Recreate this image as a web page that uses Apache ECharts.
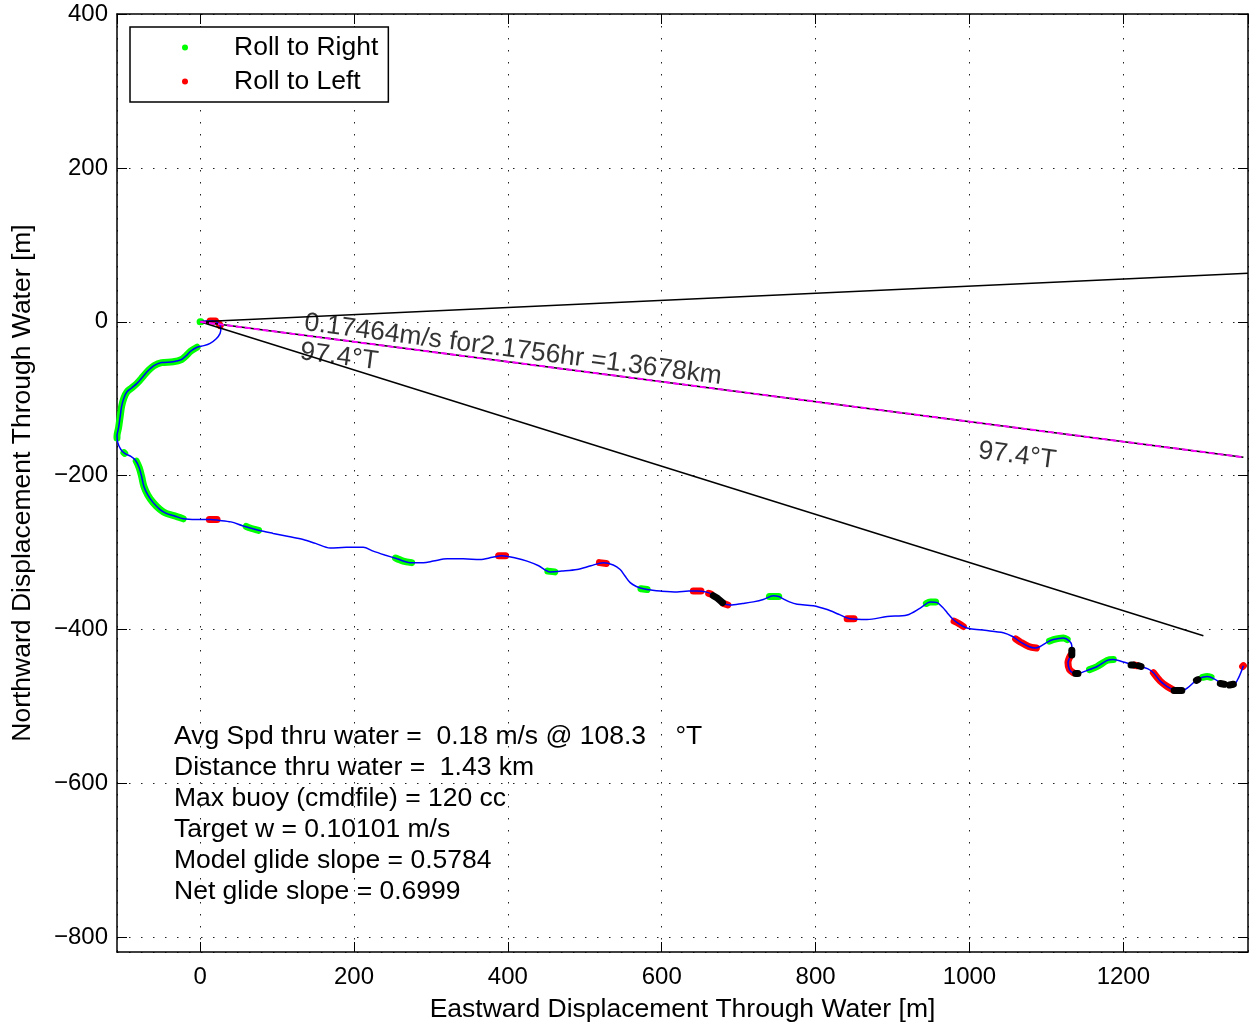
<!DOCTYPE html>
<html><head><meta charset="utf-8">
<script src="https://cdn.jsdelivr.net/npm/echarts@6/dist/echarts.min.js"></script>
<style>html,body{margin:0;padding:0;background:#fff;}#c{width:1249px;height:1026px;}</style>
</head><body><div id="c"></div>
<script>
// Glider track through water (Eastward, Northward) in metres
const track = [
[0,0],[8,1],[17,1],[24,-2],[27,-8],[26,-15],[21,-22],[13,-28],[5,-31],[-4,-33],[-12,-38],[-18,-44],[-24,-49],[-35,-52],[-50,-53],[-60,-57],[-67,-63],[-74,-71],[-82,-80],[-89,-86],[-95,-91],[-99,-99],[-102,-110],[-104,-124],[-106,-138],[-108,-148],[-107,-157],[-103,-166],[-98,-171],[-90,-175],[-84,-180],[-79,-190],[-76,-201],[-73,-214],[-68,-225],[-61,-235],[-52,-244],[-44,-249],[-34,-252],[-22,-256],[-5,-257],[13,-257],[24,-258],[40,-260],[55,-265],[65,-268],[76,-271],[95,-275],[115,-279],[134,-283],[150,-288],[169,-294],[190,-293],[212,-293],[225,-298],[240,-303],[256,-308],[273,-313],[290,-313],[303,-311],[321,-308],[342,-308],[364,-309],[380,-306],[392,-304],[410,-307],[425,-311],[440,-317],[455,-325],[470,-324],[490,-322],[508,-317],[524,-313],[537,-316],[546,-322],[552,-330],[559,-339],[567,-344],[576,-347],[588,-349],[598,-350],[620,-351],[635,-350],[646,-350],[657,-351],[665,-354],[672,-359],[680,-366],[689,-368],[705,-366],[719,-364],[732,-361],[745,-356],[752,-357],[758,-360],[766,-364],[776,-367],[797,-369],[815,-374],[830,-380],[845,-386],[867,-387],[893,-383],[919,-381],[936,-372],[949,-364],[958,-365],[965,-371],[971,-378],[978,-386],[984,-391],[992,-396],[1001,-399],[1020,-401],[1044,-404],[1056,-409],[1066,-416],[1077,-422],[1085,-424],[1092,-422],[1100,-417],[1109,-413],[1122,-411],[1130,-415],[1133,-421],[1133,-430],[1130,-437],[1128,-443],[1130,-452],[1134,-456],[1140,-457],[1153,-453],[1166,-448],[1179,-440],[1187,-439],[1200,-442],[1213,-446],[1222,-448],[1232,-451],[1239,-456],[1248,-467],[1257,-474],[1265,-478],[1274,-480],[1283,-476],[1296,-465],[1309,-461],[1318,-464],[1330,-471],[1343,-472],[1350,-462],[1356,-447]
];
// Track stretches flagged as roll to right (green)
const rollRight = [
[[0,0],[1,0]],
[[-4,-33],[-12,-38],[-18,-44],[-24,-49],[-35,-52],[-50,-53],[-60,-57],[-67,-63],[-74,-71],[-82,-80],[-89,-86],[-95,-91],[-99,-99],[-102,-110],[-104,-124],[-106,-138],[-108,-148],[-108,-151]],
[[-99,-170],[-98,-171]],
[[-83,-181],[-79,-190],[-76,-201],[-73,-214],[-68,-225],[-61,-235],[-52,-244],[-44,-249],[-34,-252],[-22,-256]],
[[60,-266],[65,-268],[76,-271]],
[[254,-307],[264,-311],[275,-313]],
[[452,-324],[461,-325]],
[[573,-347],[581,-348]],
[[740,-357],[752,-357]],
[[944,-366],[949,-364],[956,-364]],
[[1104,-415],[1109,-413],[1122,-411],[1127,-413]],
[[1156,-452],[1166,-448],[1179,-440],[1187,-439]],
[[1303,-462],[1309,-461],[1314,-462]]
];
// Track stretches flagged as roll to left (red)
const rollLeft = [
[[13,1],[20,1]],
[[25,-3],[26,-5]],
[[12,-257],[22,-257]],
[[388,-304],[397,-304]],
[[519,-313],[528,-314]],
[[641,-350],[651,-350]],
[[661,-353],[664,-354]],
[[680,-366],[686,-368]],
[[841,-386],[850,-386]],
[[980,-389],[986,-392],[992,-396]],
[[1060,-412],[1066,-416],[1077,-422],[1087,-424]],
[[1131,-434],[1128,-443],[1130,-452],[1135,-456]],
[[1214,-446],[1218,-447]],
[[1239,-456],[1248,-467],[1257,-474],[1266,-479]],
[[1355,-448],[1356,-447]]
];
// Other flagged stretches (black)
const rollOther = [
[[667,-356],[672,-359],[679,-365]],
[[1133,-427],[1133,-433]],
[[1138,-457],[1141,-457]],
[[1210,-446],[1213,-446]],
[[1220,-447],[1223,-448]],
[[1266,-479],[1276,-479]],
[[1295,-466],[1297,-465]],
[[1326,-470],[1331,-471]],
[[1338,-472],[1343,-471]]
];
const currentLine = [[0,0],[1362,63]];
const headingLine = [[0,0],[1356,-176]];
const avgLine = [[0,0],[1304,-408]];
const headingText = '0.17464m/s for2.1756hr =1.3678km';
const headingDeg = '97.4°T';
const statsLines = [
'Avg Spd thru water =  0.18 m/s @ 108.3    °T',
'Distance thru water =  1.43 km',
'Max buoy (cmdfile) = 120 cc',
'Target w = 0.10101 m/s',
'Model glide slope = 0.5784',
'Net glide slope = 0.6999'
];
const xName = 'Eastward Displacement Through Water [m]';
const yName = 'Northward Displacement Through Water [m]';

const FONT = "'Liberation Sans', Arial, Helvetica, sans-serif";
const TXT = 26.5;
const GREEN = '#00ff00', RED = '#ff0000', BLUE = '#0000ff';
const fmt = v => (v < 0 ? '\u2212' + Math.abs(v) : String(v));
const gridLine = {show:true, lineStyle:{color:'#222', width:1, type:[1.5,10.5]}};

function segs(name, color, list, z){
  return list.map(s => ({type:'line', name, data:s, smooth:0.3, symbol:'none', showSymbol:false,
    lineStyle:{color, width:7, cap:'round', join:'round'}, itemStyle:{color}, z, silent:true}));
}
function straight(data, color, width, type, z){
  return {type:'line', data, symbol:'none', showSymbol:false, silent:true, z,
    lineStyle:{color, width, type: type || 'solid'}, itemStyle:{color}};
}
function label(pt, text){
  return {type:'scatter', data:[pt], symbolSize:0, silent:true, z:6,
    label:{show:true, position:'inside', formatter:text, rotate:-7.4, fontSize:TXT, fontFamily:FONT, color:'#000'}};
}

const baseX = {type:'value', min:-108, max:1362, splitNumber:7};
const baseY = {type:'value', min:-819, max:400, splitNumber:6};
const axLine = {show:true, onZero:false, lineStyle:{color:'#000', width:1.5}};
const axTick = {show:true, inside:true, length:10, lineStyle:{color:'#000', width:1}};

const option = {
  animation:false,
  backgroundColor:'#fff',
  grid:{left:117, right:1, top:14, bottom:74, show:false, containLabel:false, outerBoundsMode:'none'},
  xAxis:[
    Object.assign({}, baseX, {position:'bottom', axisLine:axLine, axisTick:axTick,
      axisLabel:{showMinLabel:false, showMaxLabel:false, fontSize:24, fontFamily:FONT, color:'#000', margin:13, formatter:fmt},
      splitLine:gridLine, name:xName, nameLocation:'middle', nameGap:44,
      nameTextStyle:{fontSize:TXT, fontFamily:FONT, color:'#000'}}),
    Object.assign({}, baseX, {position:'top', axisLine:axLine, axisTick:axTick, axisLabel:{show:false}, splitLine:{show:false}})
  ],
  yAxis:[
    Object.assign({}, baseY, {position:'left', axisLine:axLine, axisTick:axTick,
      axisLabel:{showMinLabel:false, fontSize:24, fontFamily:FONT, color:'#000', margin:9, formatter:fmt},
      splitLine:gridLine, name:yName, nameLocation:'middle', nameGap:81,
      nameTextStyle:{fontSize:TXT, fontFamily:FONT, color:'#000'}}),
    Object.assign({}, baseY, {position:'right', axisLine:axLine, axisTick:axTick, axisLabel:{show:false}, splitLine:{show:false}})
  ],
  legend:{
    left:130, top:27, orient:'vertical', itemWidth:6, itemHeight:6, itemGap:7,
    padding:[7,10,7,52], borderColor:'#000', borderWidth:1.5, backgroundColor:'#fff', borderRadius:0,
    textStyle:{fontSize:TXT, fontFamily:FONT, color:'#000', lineHeight:26, padding:[0,0,0,41]},
    selectedMode:false,
    data:[{name:'Roll to Right', icon:'circle', itemStyle:{color:GREEN}},
          {name:'Roll to Left', icon:'circle', itemStyle:{color:RED}}]
  },
  graphic:[{type:'text', left:174, top:721, z:10, silent:true,
    style:{text:statsLines.join('\n'), fontSize:TXT, fontFamily:FONT, lineHeight:31, fill:'#000'}}],
  series:[].concat(
    segs('Roll to Right', GREEN, rollRight, 2),
    segs('Roll to Left', RED, rollLeft, 2),
    [{type:'line', name:'track', data:track, smooth:0.3, symbol:'none', showSymbol:false, silent:true, z:3,
      lineStyle:{color:BLUE, width:1.5}}],
    segs('other', '#000', rollOther, 4),
    [straight(currentLine, '#000', 1.5, 'solid', 4),
     straight(avgLine, '#000', 1.5, 'solid', 4),
     straight(headingLine, '#000', 1.5, 'solid', 4),
     straight(headingLine, '#ff00ff', 2, [6,3], 5),
     label([406.8,-36.4], headingText),
     label([180.7,-45.5], headingDeg),
     label([1062,-174], headingDeg)]
  )
};
const chart = echarts.init(document.getElementById('c'));
chart.setOption(option);
</script>
</body></html>
